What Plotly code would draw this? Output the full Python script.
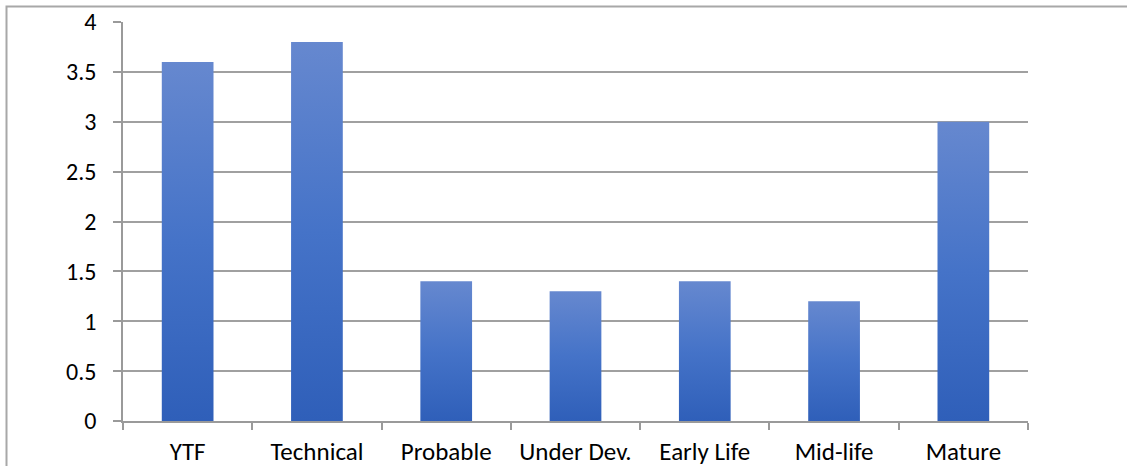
import plotly.graph_objects as go

# Chart data
categories = ["YTF", "Technical", "Probable", "Under Dev.", "Early Life", "Mid-life", "Mature"]
values = [3.6, 3.8, 1.4, 1.3, 1.4, 1.2, 3.0]
y_ticks = [0, 0.5, 1, 1.5, 2, 2.5, 3, 3.5, 4]

BAR_HALF = 0.2
AXIS_GRAY = "#9a9a9a"
FONT = "Carlito, Calibri, Lato, sans-serif"
GRADIENT = [[0.0, "#2f5fb9"], [0.5, "#4573c8"], [1.0, "#6688cf"]]

fig = go.Figure()

# Each bar is a filled polygon so it can carry a vertical gradient
for i, v in enumerate(values):
    fig.add_trace(go.Scatter(
        x=[i - BAR_HALF, i + BAR_HALF, i + BAR_HALF, i - BAR_HALF, i - BAR_HALF],
        y=[0, 0, v, v, 0],
        mode="lines",
        line=dict(width=0, color="rgba(0,0,0,0)"),
        fill="toself",
        fillgradient=dict(type="vertical", colorscale=GRADIENT, start=0, stop=v),
        hoverinfo="skip",
        showlegend=False,
    ))

# Invisible carrier trace for the category label axis
fig.add_trace(go.Scatter(
    x=list(range(len(categories))), y=[0] * len(categories),
    xaxis="x2", mode="markers", marker=dict(opacity=0),
    hoverinfo="skip", showlegend=False,
))

boundaries = [i - 0.5 for i in range(len(categories) + 1)]

fig.update_layout(
    width=1127, height=466,
    margin=dict(l=123, r=99, t=22, b=45),
    paper_bgcolor="white", plot_bgcolor="white",
    font=dict(family=FONT, color="#000000"),
    xaxis=dict(
        range=[-0.5, len(categories) - 0.5],
        tickvals=boundaries, showticklabels=False,
        ticks="outside", ticklen=7, tickwidth=1.5, tickcolor=AXIS_GRAY,
        showline=True, linecolor=AXIS_GRAY, linewidth=1.5,
        showgrid=False, zeroline=False, fixedrange=True, automargin=False,
    ),
    xaxis2=dict(
        overlaying="x", anchor="y", side="bottom",
        range=[-0.5, len(categories) - 0.5],
        tickvals=list(range(len(categories))), ticktext=categories,
        ticks="", showline=False, showgrid=False, zeroline=False,
        tickfont=dict(size=25, family=FONT, color="#000000"),
        ticklabelstandoff=13, automargin=False,
    ),
    yaxis=dict(
        range=[0, 4], tickvals=y_ticks,
        ticks="outside", ticklen=8, tickwidth=1.5, tickcolor=AXIS_GRAY,
        showline=True, linecolor=AXIS_GRAY, linewidth=1.5,
        showgrid=True, gridcolor="#a0a0a0", gridwidth=1.5,
        zeroline=False, automargin=False,
        tickfont=dict(size=24, family=FONT, color="#000000"),
        ticklabelstandoff=12,
    ),
    shapes=[dict(
        type="rect", xref="paper", yref="paper",
        x0=(6.5 - 123) / 905, x1=1.3,
        y0=-0.3, y1=(421 - 6.5) / 399,
        line=dict(color="#a8a8a8", width=2), layer="below",
    )],
)

fig.write_html("out.html")
